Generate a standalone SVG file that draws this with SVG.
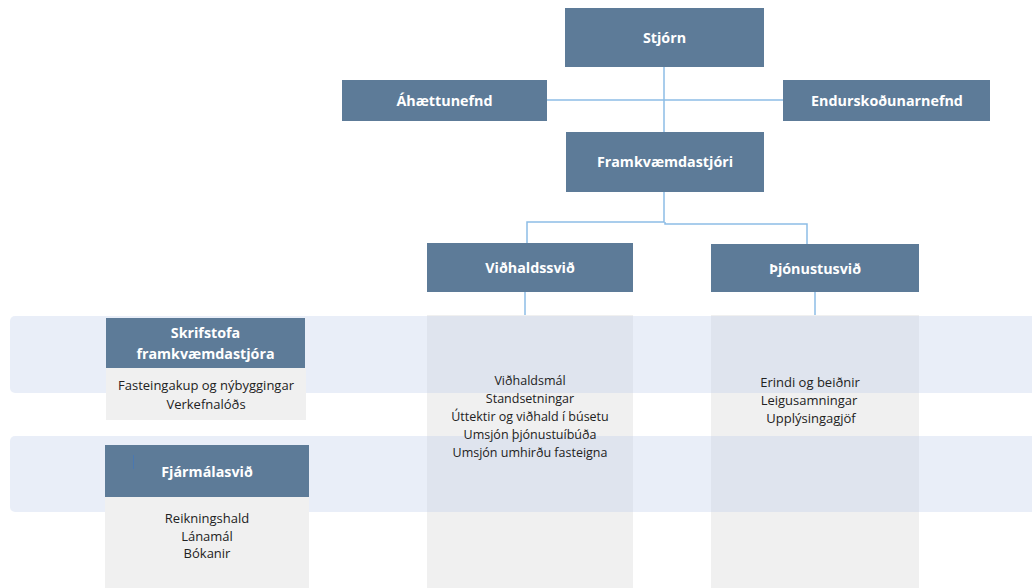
<svg xmlns="http://www.w3.org/2000/svg" width="1032" height="588" viewBox="0 0 1032 588">
<style>
.box{fill:#5d7b98}
.col{fill:#f0f0f0}
.band{fill:#bdccea;fill-opacity:0.33}
.h{font-family:"Open Sans","Liberation Sans",sans-serif;font-weight:bold;font-size:14.3px;fill:#ffffff;text-anchor:middle}
.t{font-family:"Open Sans","Liberation Sans",sans-serif;font-size:13px;fill:#222222;text-anchor:middle}
.tm{font-size:12.5px}
.c{fill:none;stroke:#8dbde6;stroke-width:1.5}
</style>
<rect width="1032" height="588" fill="#ffffff"/>
<g id="columns">
<rect class="col" x="427" y="315" width="206" height="273"/>
<rect class="col" x="711" y="315" width="208" height="273"/>
</g>
<g id="bands">
<rect class="band" x="10" y="316" width="1030" height="77" rx="5"/>
<rect class="band" x="10" y="436" width="1030" height="76" rx="5"/>
</g>
<g id="connectors">
<path class="c" d="M664 67V132"/>
<path class="c" d="M547 100H783"/>
<path class="c" d="M664 192V222H527V243"/>
<path class="c" d="M665 222V224H807V244"/>
<path class="c" d="M525 292V315"/>
<path class="c" d="M815 292V315"/>
</g>
<g id="stjorn">
<rect class="box" x="565" y="8" width="199" height="59"/>
<text class="h" x="664.5" y="43">Stjórn</text>
</g>
<g id="ahaettunefnd">
<rect class="box" x="342" y="80" width="205" height="41"/>
<text class="h" x="444.5" y="106">Áhættunefnd</text>
</g>
<g id="endurskodunarnefnd">
<rect class="box" x="783" y="80" width="207" height="41"/>
<text class="h" x="887" y="106">Endurskoðunarnefnd</text>
</g>
<g id="framkvaemdastjori">
<rect class="box" x="566" y="132" width="198" height="60"/>
<text class="h" x="665" y="167">Framkvæmdastjóri</text>
</g>
<g id="vidhaldssvid">
<rect class="box" x="427" y="243" width="206" height="49"/>
<text class="h" x="530" y="273">Viðhaldssvið</text>
<text class="t tm" x="530" y="385">Viðhaldsmál</text>
<text class="t tm" x="530" y="403">Standsetningar</text>
<text class="t tm" x="530" y="421">Úttektir og viðhald í búsetu</text>
<text class="t tm" x="530" y="439">Umsjón þjónustuíbúða</text>
<text class="t tm" x="530" y="457">Umsjón umhirðu fasteigna</text>
</g>
<g id="thjonustusvid">
<rect class="box" x="711" y="244" width="208" height="48"/>
<text class="h" x="815" y="274">Þjónustusvið</text>
<text class="t" x="810" y="387">Erindi og beiðnir</text>
<text class="t" x="809" y="405">Leigusamningar</text>
<text class="t" x="811" y="423">Upplýsingagjöf</text>
</g>
<g id="skrifstofa">
<rect class="col" x="106" y="368" width="200" height="52"/>
<rect class="box" x="106" y="318" width="199" height="50"/>
<text class="h" x="205.5" y="338">Skrifstofa</text>
<text class="h" x="205.5" y="359">framkvæmdastjóra</text>
<text class="t" x="206" y="390">Fasteingakup og nýbyggingar</text>
<text class="t" x="206" y="409">Verkefnalóðs</text>
</g>
<g id="fjarmalasvid">
<rect class="col" x="105" y="497" width="204" height="91"/>
<rect class="box" x="105" y="445" width="204" height="52"/>
<line x1="133.5" y1="455" x2="133.5" y2="469" stroke="#4a78b0" stroke-width="1"/>
<text class="h" x="207" y="477">Fjármálasvið</text>
<text class="t" x="207" y="523">Reikningshald</text>
<text class="t" x="207" y="541">Lánamál</text>
<text class="t" x="207" y="558">Bókanir</text>
</g>
</svg>
